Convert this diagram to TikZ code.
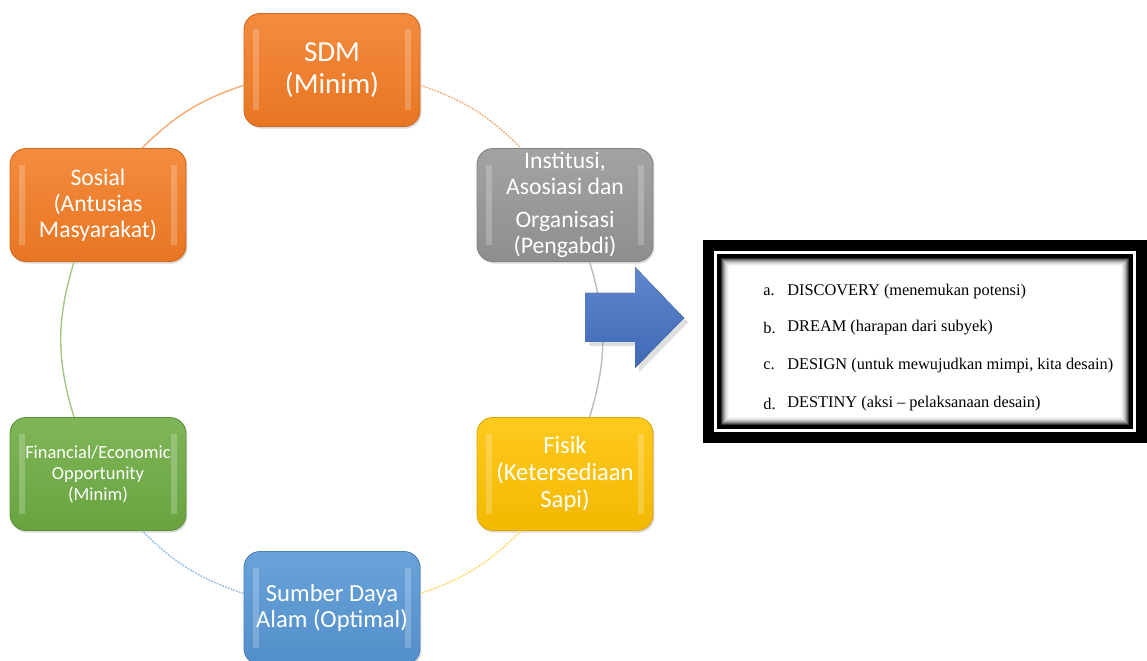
\documentclass[tikz,border=0pt]{standalone}
\usepackage{fontspec}
\setmainfont{Carlito}
\newfontfamily\listfont{Liberation Serif}
\usepackage{tikz}
\usetikzlibrary{shadows}

\definecolor{sdmorange}{RGB}{243,124,36}
\definecolor{instgray}{RGB}{150,150,150}
\definecolor{fisikyellow}{RGB}{255,194,0}
\definecolor{alamblue}{RGB}{86,150,212}
\definecolor{finagreen}{RGB}{110,172,66}
\definecolor{arrowblue}{RGB}{68,114,196}

\tikzset{
	pillar/.style={rectangle, rounded corners=0.32cm, minimum width=3.52cm, minimum height=2.26cm,
		align=center, text=white, inner sep=1pt,
		top color=#1!88!white, bottom color=#1!95!black, draw=#1!85!black, line width=0.5pt,
		drop shadow={opacity=0.3, shadow xshift=0.8pt, shadow yshift=-1.2pt},
		path picture={
			\fill[white, opacity=0.22, sharp corners] ([xshift=0.18cm,yshift=-0.32cm]path picture bounding box.north west) rectangle ([xshift=0.3cm,yshift=0.32cm]path picture bounding box.south west);
			\fill[white, opacity=0.22, sharp corners] ([xshift=-0.18cm,yshift=-0.32cm]path picture bounding box.north east) rectangle ([xshift=-0.3cm,yshift=0.32cm]path picture bounding box.south east);
		}},
	ring/.style={line width=0.8pt, #1!65!white},
	dotring/.style={ring=#1, dash pattern=on 1pt off 0.7pt},
	listitem/.style={anchor=west, inner sep=0pt, font=\listfont\fontsize{9.3}{11}\selectfont}
}

\begin{document}
\begin{tikzpicture}[x=0.02cm, y=-0.02cm]
				\useasboundingbox (0,0) rectangle (1147,661);
				\node[pillar=sdmorange, font=\fontsize{16.5}{18.5}\selectfont] (sdm) at (332,70) {SDM\\(Minim)};
				\node[pillar=instgray, font=\fontsize{13.5}{14.8}\selectfont] (inst) at (565,205) {Institusi,\\Asosiasi dan\\[4pt]Organisasi\\(Pengabdi)};
				\node[pillar=fisikyellow, font=\fontsize{14}{15.3}\selectfont] (fisik) at (565,474) {Fisik\\(Ketersediaan\\Sapi)};
				\node[pillar=alamblue, font=\fontsize{14}{15.3}\selectfont] (alam) at (332,608) {Sumber Daya\\Alam (Optimal)};
				\node[pillar=finagreen, font=\fontsize{10.5}{12}\selectfont] (fina) at (98,474) {Financial/Economic\\Opportunity\\(Minim)};
				\node[pillar=sdmorange, font=\fontsize{13.5}{14.8}\selectfont] (sosial) at (98,205) {Sosial\\(Antusias\\Masyarakat)};
				\draw[dotring=sdmorange] ([yshift=-0.306cm]sdm.east) to[bend left=13] ([xshift=-0.882cm]inst.north);
				\draw[ring=instgray] ([xshift=0.492cm]inst.south) to[bend left=17] ([xshift=0.492cm]fisik.north);
				\draw[dotring=fisikyellow] ([xshift=-0.882cm]fisik.south) to[bend left=13] ([yshift=0.29cm]alam.east);
				\draw[dotring=alamblue] ([yshift=0.29cm]alam.west) to[bend left=13] ([xshift=0.882cm]fina.south);
				\draw[ring=finagreen] ([xshift=-0.48cm]fina.north) to[bend left=17] ([xshift=-0.48cm]sosial.south);
				\draw[ring=sdmorange] ([xshift=0.882cm]sosial.north) to[bend left=13] ([yshift=-0.306cm]sdm.west);
				\fill[top color=arrowblue!85!white, bottom color=arrowblue!92!black, drop shadow={opacity=0.25}]
					(585,293) -- (635,293) -- (635,267) -- (684,318) -- (635,368) -- (635,342) -- (585,342) -- cycle;
				\fill[black] (703,240) rectangle (1147,443);
				\fill[white] (714,251) rectangle (1136,432);
				\fill[black] (717,254) rectangle (1133,429);
				\fill[white] (721,258) rectangle (1129,425);
				\foreach \d/\c in {0.5/80,1.5/62,2.5/46,3.5/33,4.5/22,5.5/14,6.5/8,7.5/4}
					\draw[black!\c, line width=0.6pt] ({721+\d},{258+\d}) rectangle ({1129-\d},{425-\d});
				\node[listitem] (la) at (763,292) {a.};
				\node[listitem] (lb) at (763,328) {b.};
				\node[listitem] (lc) at (763,366) {c.};
				\node[listitem] (ld) at (763,404) {d.};
				\node[listitem] (ta) at (787,292) {DISCOVERY (menemukan potensi)};
				\node[listitem] (tb) at (787,328) {DREAM (harapan dari subyek)};
				\node[listitem] (tc) at (787,366) {DESIGN (untuk mewujudkan mimpi, kita desain)};
				\node[listitem] (td) at (787,404) {DESTINY (aksi \textendash{} pelaksanaan desain)};
			\end{tikzpicture}
\end{document}
